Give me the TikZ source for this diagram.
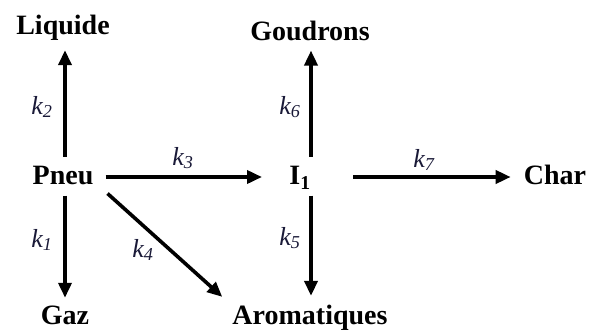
\documentclass[tikz,border=0pt]{standalone}
\usepackage{fontspec}
\setmainfont{Liberation Serif}
\usetikzlibrary{arrows.meta}
\definecolor{klab}{RGB}{25,25,55}
\begin{document}
\begin{tikzpicture}[x=1pt,y=1pt,
  species/.style={font=\fontsize{28}{30}\selectfont\bfseries, inner sep=0pt, anchor=base},
  rate/.style={font=\fontsize{26}{28}\selectfont\itshape, text=klab, inner sep=0pt},
  arr/.style={line width=3.6pt, -{Triangle[length=15pt,width=13pt]}}]
\useasboundingbox (0,0) rectangle (591,329);
% species
\node[species] (liquide) at (63,294) {Liquide};
\node[species] (goudrons) at (310,288) {Goudrons};
\node[species] (pneu) at (63,144) {Pneu};
\node[species] (i1) at (300,144) {I\textsubscript{1}};
\node[species] (char) at (555,144) {Char};
\node[species] (gaz) at (65,5) {Gaz};
\node[species] (arom) at (310,5) {Aromatiques};
% connectors
\draw[arr] ([xshift=2pt,yshift=9.5pt]pneu.north) -- ([xshift=2pt,yshift=-9pt]pneu.north |- liquide.south);
\draw[arr] ([xshift=2pt,yshift=-10pt]pneu.south) -- ([xshift=2pt,yshift=7.5pt]pneu.south |- gaz.north);
\draw[arr] ([xshift=12pt,yshift=-1pt]pneu.east) -- ([xshift=-38pt,yshift=-1pt]i1.center |- pneu.east);
\draw[arr] ([xshift=14pt,yshift=-8pt]pneu.south east) -- ([xshift=-10pt,yshift=7.5pt]arom.north west);
\draw[arr] ([xshift=11pt,yshift=9.5pt]i1.center |- pneu.north) -- ([xshift=11pt,yshift=-9pt]i1.center |- goudrons.south);
\draw[arr] ([xshift=11pt,yshift=-10pt]i1.center |- pneu.south) -- ([xshift=11pt,yshift=8.5pt]i1.center |- arom.north);
\draw[arr] ([xshift=53pt,yshift=-1pt]i1.center |- pneu.east) -- ([xshift=-13pt,yshift=-1pt]char.west |- pneu.east);
% rate constants
\node[rate] (k2) at (42,222) {k\textsubscript{2}};
\node[rate] (k1) at (42,89) {k\textsubscript{1}};
\node[rate] (k3) at (183,171) {k\textsubscript{3}};
\node[rate] (k4) at (143,79) {k\textsubscript{4}};
\node[rate] (k6) at (290,222) {k\textsubscript{6}};
\node[rate] (k5) at (290,91) {k\textsubscript{5}};
\node[rate] (k7) at (424,169) {k\textsubscript{7}};
\end{tikzpicture}
\end{document}
